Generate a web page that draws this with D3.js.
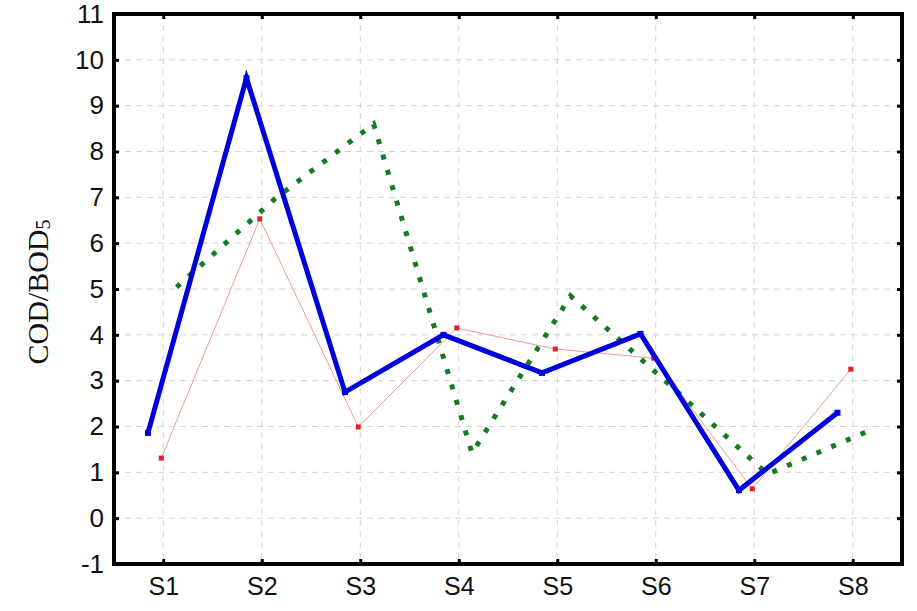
<!DOCTYPE html>
<html>
<head>
<meta charset="utf-8">
<script src="https://cdn.jsdelivr.net/npm/d3@7"></script>
<style>
  html, body { margin: 0; padding: 0; background: #fff; }
  svg { display: block; }
</style>
</head>
<body>
<svg id="chart" width="917" height="611"></svg>
<script>
// ---- data ----
const categories = ["S1", "S2", "S3", "S4", "S5", "S6", "S7", "S8"];
const blueSeries  = [1.86, 9.6, 2.75, 4.0, 3.17, 4.02, 0.61, 2.3];
const redSeries   = [1.31, 6.53, 1.99, 4.15, 3.69, 3.49, 0.64, 3.25];
const greenSeries = [5.04, 6.97, 8.6, 1.42, 4.85, 2.92, 0.96, 1.88];
const yTicks = [-1, 0, 1, 2, 3, 4, 5, 6, 7, 8, 9, 10, 11];
const yLabel = "COD/BOD";
const yLabelSub = "5";

// ---- layout ----
const W = 917, H = 611;
const m = { left: 114, right: 15, top: 14, bottom: 47 };
const svg = d3.select("#chart");

const x = d3.scalePoint().domain(categories).range([m.left, W - m.right]).padding(0.5);
const y = d3.scaleLinear().domain([-1, 11]).range([H - m.bottom, m.top]);
const step = x.step();

// grid
const grid = svg.append("g");
grid.selectAll("line.h").data(yTicks.slice(1, -1)).enter().append("line")
  .attr("x1", m.left).attr("x2", W - m.right)
  .attr("y1", d => y(d)).attr("y2", d => y(d))
  .attr("stroke", "#d4d4d4").attr("stroke-width", 1).attr("stroke-dasharray", "6,5");
grid.selectAll("line.v").data(categories).enter().append("line")
  .attr("x1", d => x(d)).attr("x2", d => x(d))
  .attr("y1", m.top).attr("y2", H - m.bottom)
  .attr("stroke", "#d4d4d4").attr("stroke-width", 1).attr("stroke-dasharray", "6,5");

// axes (ticks inside)
const fontSans = "'Liberation Sans', Arial, sans-serif";
const yAxis = svg.append("g").attr("transform", `translate(${m.left},0)`)
  .call(d3.axisLeft(y).tickValues(yTicks).tickFormat(d => String(d)).tickSizeInner(-5).tickSizeOuter(0).tickPadding(10));
yAxis.select(".domain").remove();
yAxis.selectAll(".tick line").attr("stroke", "#000").attr("stroke-width", 3);
yAxis.selectAll(".tick text")
  .style("font-family", fontSans).style("font-size", "26px").attr("fill", "#111");

const yAxisR = svg.append("g").attr("transform", `translate(${W - m.right},0)`)
  .call(d3.axisRight(y).tickValues(yTicks).tickFormat("").tickSizeInner(-5).tickSizeOuter(0));
yAxisR.select(".domain").remove();
yAxisR.selectAll(".tick line").attr("stroke", "#000").attr("stroke-width", 3);

const xAxis = svg.append("g").attr("transform", `translate(0,${H - m.bottom})`)
  .call(d3.axisBottom(x).tickSizeInner(-5).tickSizeOuter(0).tickPadding(13));
xAxis.select(".domain").remove();
xAxis.selectAll(".tick line").attr("stroke", "#000").attr("stroke-width", 3);
xAxis.selectAll(".tick text")
  .style("font-family", fontSans).style("font-size", "25px").attr("fill", "#111");

const xAxisT = svg.append("g").attr("transform", `translate(0,${m.top})`)
  .call(d3.axisTop(x).tickFormat("").tickSizeInner(-5).tickSizeOuter(0));
xAxisT.select(".domain").remove();
xAxisT.selectAll(".tick line").attr("stroke", "#000").attr("stroke-width", 3);

// frame
svg.append("rect")
  .attr("x", m.left).attr("y", m.top)
  .attr("width", W - m.left - m.right).attr("height", H - m.top - m.bottom)
  .attr("fill", "none").attr("stroke", "#000").attr("stroke-width", 4);

// y label
const yl = svg.append("text")
  .attr("transform", `translate(48,${(m.top + H - m.bottom) / 2 + 3}) rotate(-90)`)
  .attr("text-anchor", "middle")
  .style("font-family", "'Liberation Serif', 'Times New Roman', serif")
  .style("font-size", "30px").attr("fill", "#111");
yl.append("tspan").text(yLabel);
yl.append("tspan").style("font-size", "20px").attr("dy", 2).text(yLabelSub);

// series
function pts(vals, off) { return vals.map((v, i) => [x(categories[i]) + off * step, y(v)]); }
const line = d3.line();

// red thin
const redPts = pts(redSeries, -0.02);
svg.append("path").attr("d", line(redPts))
  .attr("fill", "none").attr("stroke", "#f09a90").attr("stroke-width", 1);
svg.selectAll("rect.red").data(redPts).enter().append("rect")
  .attr("x", d => d[0] - 2.5).attr("y", d => d[1] - 2.5).attr("width", 5).attr("height", 5)
  .attr("fill", "#e0202a");

// green dotted
const greenPts = pts(greenSeries, 0.135);
svg.append("path").attr("d", line(greenPts))
  .attr("fill", "none").attr("stroke", "#157a22").attr("stroke-width", 5)
  .attr("stroke-dasharray", "5,11").attr("stroke-linejoin", "miter");

// blue thick
const bluePts = pts(blueSeries, -0.155);
svg.append("path").attr("d", line(bluePts))
  .attr("fill", "none").attr("stroke", "#0000dd").attr("stroke-width", 5)
  .attr("stroke-linejoin", "miter");
svg.selectAll("rect.blue").data(bluePts).enter().append("rect")
  .attr("x", d => d[0] - 3).attr("y", d => d[1] - 3).attr("width", 6).attr("height", 6)
  .attr("fill", "#0000dd");
</script>
</body>
</html>
